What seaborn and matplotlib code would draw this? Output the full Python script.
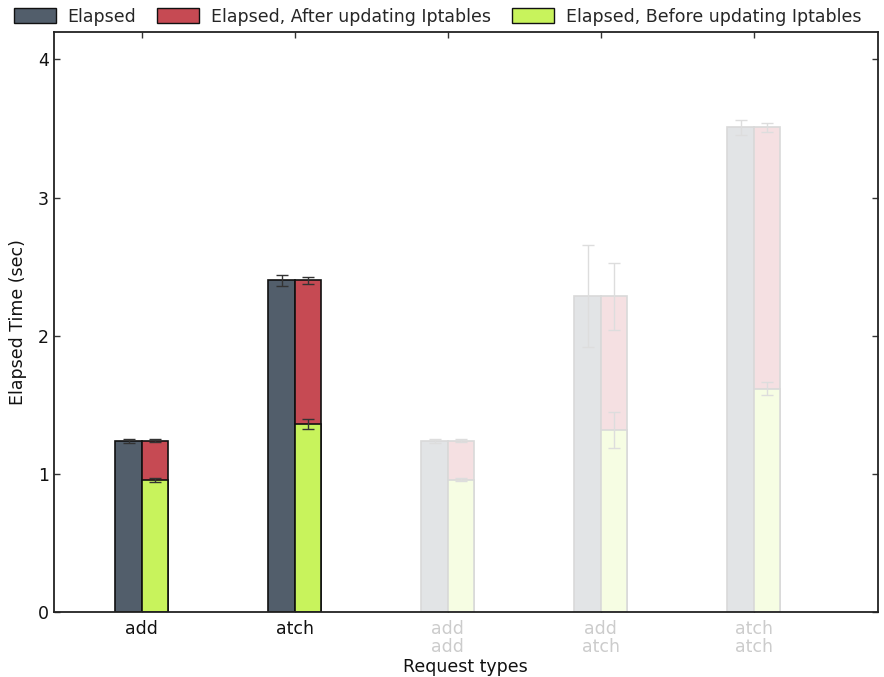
import matplotlib
matplotlib.use("Agg")
import matplotlib.pyplot as plt
from matplotlib.patches import Patch
import numpy as np
import pandas as pd
import seaborn as sns

# Request types and measured times (seconds)
labels = ["add", "atch", "add\nadd", "add\natch", "atch\natch"]
elapsed = [1.24, 2.40, 1.24, 2.285, 3.51]
before = [0.955, 1.36, 0.957, 1.32, 1.617]
elapsed_err = [0.015, 0.042, 0.015, 0.37, 0.055]
after_err = [0.012, 0.028, 0.012, 0.24, 0.033]
before_err = [0.015, 0.035, 0.012, 0.13, 0.045]
highlighted = [True, True, False, False, False]

series_names = ["Elapsed", "Elapsed, After updating Iptables",
                "Elapsed, Before updating Iptables"]
colors = ["#525e6b", "#c64a53", "#c8f35c"]

sns.set_theme(style="white")
plt.rcParams["font.family"] = ["DejaVu Sans"]

fig = plt.figure(figsize=(8.84, 6.77), dpi=100)
ax = fig.add_axes([0.061, 0.096, 0.932, 0.857])

# long table: left bar = total elapsed, right bar = stacked after/before
totals = pd.DataFrame({
    "req": labels * 2,
    "side": ["left"] * len(labels) + ["right"] * len(labels),
    "val": elapsed + elapsed,
})
# lower segment of the right bar; the left slot is kept empty (zero height)
lower = pd.DataFrame({
    "req": labels * 2,
    "side": ["left"] * len(labels) + ["right"] * len(labels),
    "val": [0.0] * len(labels) + before,
})

bar_w = 0.346
sns.barplot(data=totals, x="req", y="val", hue="side", order=labels,
            hue_order=["left", "right"], palette=[colors[0], colors[1]],
            width=bar_w, errorbar=None, legend=False, ax=ax, saturation=1)
sns.barplot(data=lower, x="req", y="val", hue="side", order=labels,
            hue_order=["left", "right"], palette=[colors[0], colors[2]],
            width=bar_w, errorbar=None, legend=False, ax=ax, saturation=1)

for p in list(ax.patches):
    if p.get_height() == 0:
        p.remove()


def washed(c, amount=0.17):
    r, g, b, _ = matplotlib.colors.to_rgba(c)
    return tuple(amount * v + (1 - amount) for v in (r, g, b))


left_x = {}
right_x = {}
for p in ax.patches:
    cx = p.get_x() + p.get_width() / 2
    g = int(round(cx))
    if cx < g:
        left_x[g] = cx
    else:
        right_x[g] = cx
    if highlighted[g]:
        p.set_edgecolor("#111111")
        p.set_linewidth(1.2)
    else:
        p.set_facecolor(washed(p.get_facecolor()))
        p.set_edgecolor("#d9d9d9")
        p.set_linewidth(1.2)

for g in range(len(labels)):
    ecol = "#333333" if highlighted[g] else "#dddddd"
    kw = dict(fmt="none", ecolor=ecol, elinewidth=1, capsize=4, capthick=1, zorder=5)
    ax.errorbar(left_x[g], elapsed[g], yerr=elapsed_err[g], **kw)
    ax.errorbar(right_x[g], elapsed[g], yerr=after_err[g], **kw)
    ax.errorbar(right_x[g], before[g], yerr=before_err[g], **kw)

ax.set_xlim(-0.575, 4.81)
ax.set_ylim(0, 4.2)
ax.set_yticks([0, 1, 2, 3, 4])
ax.set_xticks(range(len(labels)))
ax.set_xticklabels(labels, fontsize=12.5)
for t, h in zip(ax.get_xticklabels(), highlighted):
    t.set_color("#111111" if h else "#cccccc")
    t.set_linespacing(1.0)
ax.tick_params(axis="y", labelsize=12.5, labelcolor="#111111")
ax.tick_params(direction="in", length=4, width=1, color="#333333",
               top=True, right=True, bottom=True, left=True)
ax.tick_params(axis="x", pad=6)

for s in ax.spines.values():
    s.set_visible(True)
    s.set_color("#222222")
    s.set_linewidth(1.3)

ax.set_xlabel("Request types", fontsize=12.5, color="#111111", labelpad=1)
ax.set_ylabel("Elapsed Time (sec)", fontsize=12.5, color="#111111", labelpad=8)

handles = [Patch(facecolor=c, edgecolor="#111111", linewidth=1.0) for c in colors]
fig.legend(handles, series_names, loc="upper center", bbox_to_anchor=(0.495, 1.012),
           ncol=3, frameon=False, fontsize=12.5, handlelength=2.4, handleheight=0.9,
           columnspacing=1.2, handletextpad=0.7)

fig.savefig("out.png", dpi=100)
